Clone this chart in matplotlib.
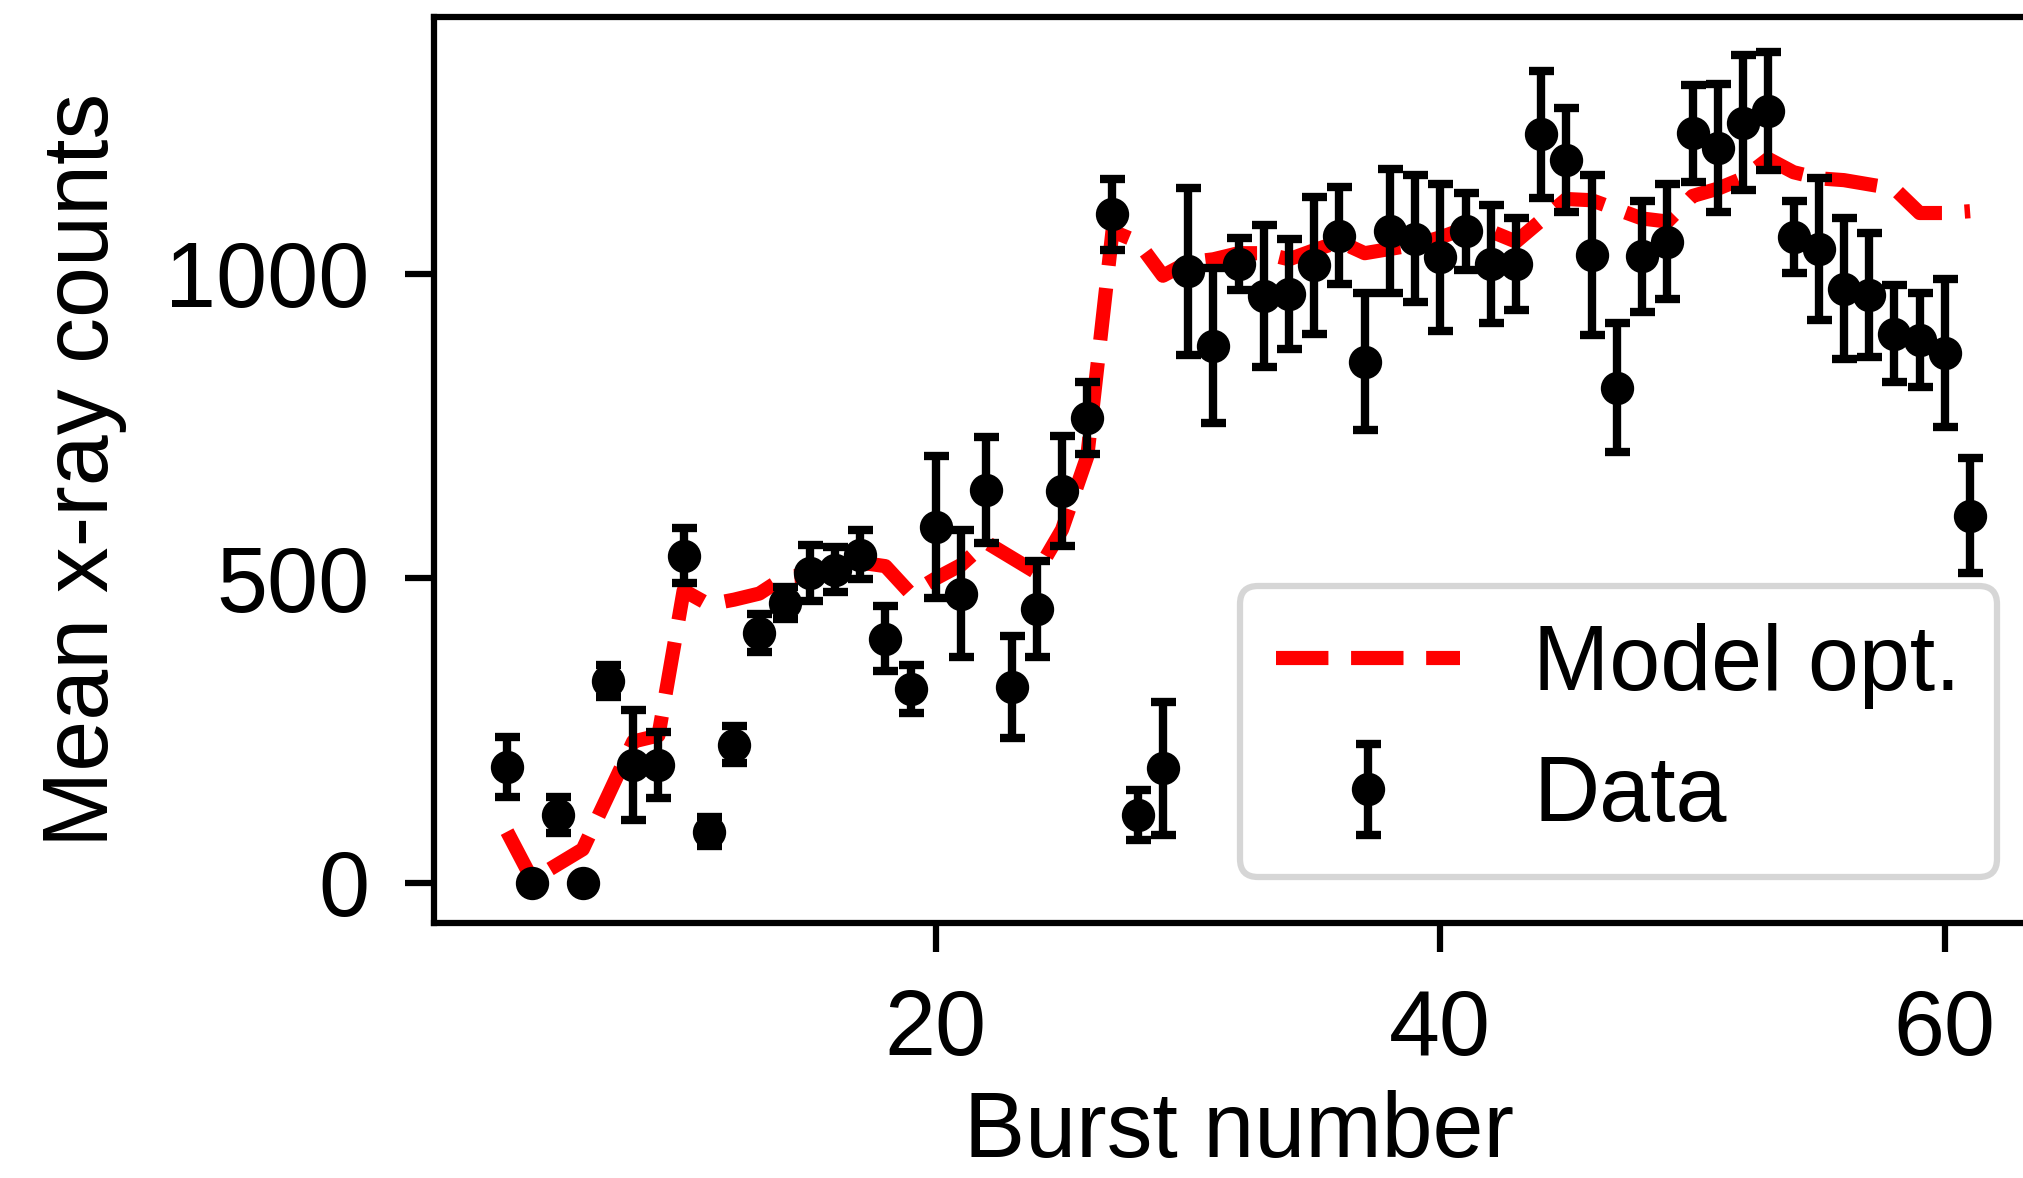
import matplotlib
matplotlib.use("Agg")
import matplotlib.pyplot as plt

# Burst-by-burst mean x-ray counts and the optimised model
burst = list(range(3, 62))
counts = [190, 0, 111, 0, 331, 193, 193, 537, 84, 227,
          410, 460, 509, 514, 539, 401, 318, 584, 475, 645,
          321, 450, 643, 764, 1098, 111, 188, 1004, 882, 1016,
          964, 967, 1014, 1063, 856, 1070, 1058, 1027, 1070, 1016,
          1016, 1229, 1187, 1031, 813, 1029, 1053, 1231, 1207, 1248,
          1268, 1060, 1041, 976, 966, 902, 892, 870, 603]
errors = [49, 0, 30, 0, 26, 90, 54, 45, 24, 31,
          31, 26, 46, 37, 40, 54, 39, 117, 104, 87,
          84, 79, 90, 59, 58, 41, 109, 137, 127, 43,
          117, 90, 112, 80, 113, 102, 104, 120, 63, 97,
          75, 105, 85, 131, 106, 91, 95, 80, 105, 111,
          97, 59, 117, 115, 102, 80, 77, 121, 94]
model = [84, 5, 30, 55, 143, 232, 242, 480, 457, 465,
         475, 502, 506, 519, 526, 520, 475, 500, 522, 559,
         534, 509, 580, 700, 1070, 1053, 997, 1019, 1024, 1034,
         1034, 1024, 1039, 1053, 1034, 1041, 1048, 1060, 1075, 1070,
         1053, 1088, 1123, 1121, 1106, 1091, 1086, 1128, 1140, 1157,
         1189, 1167, 1157, 1154, 1147, 1140, 1100, 1100, 1103]

plt.rcParams["font.family"] = ["Liberation Sans", "DejaVu Sans"]
plt.rcParams["font.size"] = 22

fig = plt.figure(figsize=(2023 / 300, 1178 / 300), dpi=300)
ax = fig.add_axes([0.2145, 0.2165, 0.7955, 0.7691])

ax.plot(burst, model, linestyle="--", color="red", linewidth=3.4,
        label="Model opt.")
ax.errorbar(burst, counts, yerr=errors, fmt="o", color="black",
            markersize=7, elinewidth=2.0, capsize=3, capthick=2.0,
            label="Data")

ax.set_xlim(0.1, 63.9)
ax.set_ylim(-66, 1422)
ax.set_xticks([20, 40, 60])
ax.set_yticks([0, 500, 1000])
ax.set_xlabel("Burst number", labelpad=4)
ax.set_ylabel("Mean x-ray counts", labelpad=9)

for side in ax.spines.values():
    side.set_linewidth(1.5)
ax.tick_params(axis="both", length=7, width=1.5, pad=8.5, labelsize=22)

leg = ax.legend(loc="lower right", fontsize=22, fancybox=True,
                labelspacing=0.5)
leg.get_frame().set_linewidth(1.5)

fig.savefig("out.png", dpi=300)
